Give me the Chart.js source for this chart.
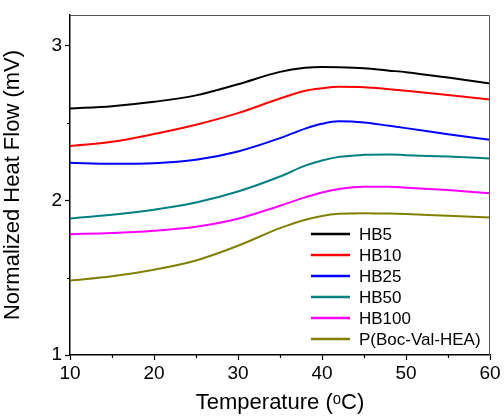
<!DOCTYPE html>
<html>
<head>
<meta charset="utf-8">
<script src="https://cdn.jsdelivr.net/npm/chart.js@4"></script>
<style>
  html, body { margin: 0; padding: 0; background: #fff; }
  #wrap { width: 504px; height: 416px; }
</style>
</head>
<body>
<div id="wrap"><canvas id="dsc"></canvas></div>
<script>
const temps = [10, 15, 20, 25, 30, 35, 38, 40, 42, 45, 48, 50, 55, 60];
const hb5   = [2.595, 2.61, 2.638, 2.68, 2.752, 2.832, 2.858, 2.864, 2.862, 2.855, 2.84, 2.83, 2.795, 2.756];
const hb10  = [2.353, 2.38, 2.43, 2.49, 2.565, 2.66, 2.71, 2.726, 2.735, 2.733, 2.72, 2.71, 2.683, 2.653];
const hb25  = [2.244, 2.237, 2.241, 2.263, 2.317, 2.403, 2.465, 2.496, 2.512, 2.505, 2.483, 2.468, 2.429, 2.392];
const hb50  = [1.884, 1.907, 1.94, 1.987, 2.058, 2.155, 2.225, 2.259, 2.282, 2.295, 2.298, 2.293, 2.284, 2.272];
const hb100 = [1.782, 1.789, 1.804, 1.83, 1.882, 1.966, 2.02, 2.052, 2.074, 2.089, 2.089, 2.082, 2.067, 2.047];
const pboc  = [1.481, 1.509, 1.552, 1.612, 1.707, 1.821, 1.875, 1.9, 1.914, 1.918, 1.915, 1.912, 1.901, 1.89];
const names = ["HB5", "HB10", "HB25", "HB50", "HB100", "P(Boc-Val-HEA)"];
const colors = ["#000000", "#ff0000", "#0000ff", "#008080", "#ff00ff", "#808000"];
const xMinor = [15, 25, 35, 45, 55];
const yMinor = [1.5, 2.5];

const FONT = "'Liberation Sans', Arial, sans-serif";

function series(vals) {
    return temps.map((t, i) => ({x: t, y: vals[i]}));
}

const allSeries = [hb5, hb10, hb25, hb50, hb100, pboc];

// frame, minor ticks and in-plot legend
const extras = {
    id: "extras",
    afterDraw(chart) {
        const ctx = chart.ctx;
        const a = chart.chartArea;
        const xs = chart.scales.x, ys = chart.scales.y;
        ctx.save();
        ctx.strokeStyle = "#555";
        ctx.lineWidth = 1;
        ctx.beginPath();
        ctx.moveTo(a.left, a.top + 0.5);
        ctx.lineTo(a.right - 0.5, a.top + 0.5);
        ctx.lineTo(a.right - 0.5, a.bottom);
        ctx.stroke();

        ctx.strokeStyle = "#000";
        ctx.lineWidth = 1.2;
        ctx.beginPath();
        xMinor.forEach(v => {
            const px = Math.round(xs.getPixelForValue(v)) + 0.5;
            ctx.moveTo(px, a.bottom);
            ctx.lineTo(px, a.bottom + 3);
        });
        yMinor.forEach(v => {
            const py = Math.round(ys.getPixelForValue(v)) + 0.5;
            ctx.moveTo(a.left, py);
            ctx.lineTo(a.left - 3, py);
        });
        ctx.stroke();

        ctx.font = "17px " + FONT;
        ctx.textBaseline = "middle";
        ctx.textAlign = "left";
        chart.data.datasets.forEach((ds, i) => {
            const y = 234 + i * 21;
            ctx.strokeStyle = ds.borderColor;
            ctx.lineWidth = 2.5;
            ctx.beginPath();
            ctx.moveTo(311, y);
            ctx.lineTo(350, y);
            ctx.stroke();
            ctx.fillStyle = "#000";
            ctx.fillText(ds.label, 359, y + 1);
        });
        ctx.restore();
    }
};

new Chart(document.getElementById("dsc"), {
    type: "line",
    data: {
        datasets: allSeries.map((vals, i) => ({
            label: names[i],
            data: series(vals),
            borderColor: colors[i],
            backgroundColor: colors[i],
            borderWidth: 2,
            pointRadius: 0,
            cubicInterpolationMode: "monotone",
            fill: false
        }))
    },
    options: {
        responsive: true,
        maintainAspectRatio: false,
        animation: false,
        layout: {padding: {top: 15, right: 14, left: 0, bottom: 0}},
        plugins: {
            legend: {display: false},
            tooltip: {enabled: false}
        },
        scales: {
            x: {
                type: "linear",
                min: 10,
                max: 60,
                afterFit: s => { s.height = 61; },
                border: {color: "#000", width: 1.5},
                grid: {drawOnChartArea: false, drawTicks: true, tickLength: 5, color: "#000", tickWidth: 1.2},
                ticks: {stepSize: 10, color: "#000", padding: 2, font: {family: FONT, size: 19}},
                title: {
                    display: true,
                    text: "Temperature (ᵒC)",
                    color: "#000",
                    padding: {top: 0, bottom: 0},
                    font: {family: FONT, size: 22}
                }
            },
            y: {
                type: "linear",
                min: 1,
                max: 3.2,
                afterFit: s => { s.width = 70; },
                afterBuildTicks: s => { s.ticks = s.ticks.filter(t => Number.isInteger(t.value)); },
                border: {color: "#000", width: 1.5},
                grid: {drawOnChartArea: false, drawTicks: true, tickLength: 5, color: "#000", tickWidth: 1.2},
                ticks: {stepSize: 1, color: "#000", padding: 3, font: {family: FONT, size: 19}},
                title: {
                    display: true,
                    text: "Normalized Heat Flow (mV)",
                    color: "#000",
                    padding: {top: 0, bottom: 4},
                    font: {family: FONT, size: 22}
                }
            }
        }
    },
    plugins: [extras]
});
</script>
</body>
</html>
